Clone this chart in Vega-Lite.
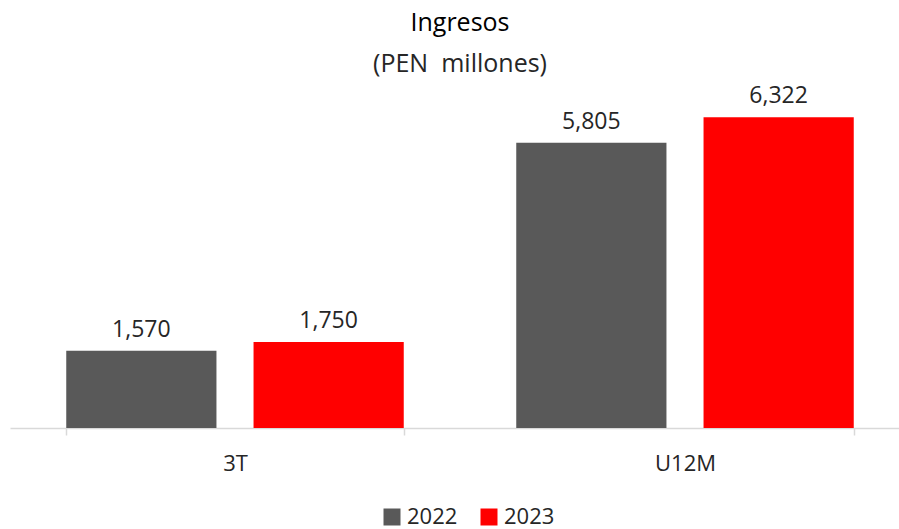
{
  "$schema": "https://vega.github.io/schema/vega-lite/v6.json",
  "width": 900,
  "height": 344,
  "autosize": "none",
  "padding": {"left": 10, "top": 84, "right": 0, "bottom": 101},
  "background": "white",
  "config": {"view": {"stroke": null}, "font": "Open Sans"},
  "title": {
    "text": "Ingresos",
    "subtitle": "(PEN\u00a0\u00a0millones)",
    "anchor": "middle",
    "fontSize": 25,
    "fontWeight": "normal",
    "font": "Open Sans",
    "color": "#000000",
    "subtitleFontSize": 25,
    "subtitleFont": "Open Sans",
    "subtitleColor": "#262626",
    "subtitlePadding": 16,
    "offset": 7
  },
  "data": {
    "values": [
      {"periodo": "3T", "anio": "2022", "valor": 1570},
      {"periodo": "3T", "anio": "2023", "valor": 1750},
      {"periodo": "U12M", "anio": "2022", "valor": 5805},
      {"periodo": "U12M", "anio": "2023", "valor": 6322}
    ]
  },
  "encoding": {
    "x": {
      "field": "periodo",
      "type": "nominal",
      "scale": {"paddingInner": 0.25, "paddingOuter": 0.125},
      "axis": {
        "title": null,
        "labelAngle": 0,
        "labelFontSize": 22,
        "labelColor": "#262626",
        "labelFont": "Open Sans",
        "labelPadding": 18,
        "domainColor": "#d9d9d9",
        "domainWidth": 1.5,
        "tickColor": "#d9d9d9",
        "tickWidth": 1.5,
        "tickSize": 7,
        "tickBand": "extent"
      }
    },
    "xOffset": {
      "field": "anio",
      "type": "nominal",
      "scale": {"paddingInner": 0.198, "paddingOuter": 0}
    },
    "y": {
      "field": "valor",
      "type": "quantitative",
      "scale": {"domain": [0, 7000]},
      "axis": null
    }
  },
  "layer": [
    {
      "mark": {"type": "bar"},
      "encoding": {
        "color": {
          "field": "anio",
          "type": "nominal",
          "scale": {"domain": ["2022", "2023"], "range": ["#595959", "#FF0000"]},
          "legend": {
            "title": null,
            "orient": "none",
            "legendX": 371,
            "legendY": 422,
            "direction": "horizontal",
            "symbolType": "square",
            "symbolSize": 289,
            "symbolStrokeWidth": 0,
            "labelFontSize": 22,
            "labelFont": "Open Sans",
            "labelColor": "#262626",
            "labelOffset": 4,
            "columnPadding": 20
          }
        }
      }
    },
    {
      "mark": {"type": "text", "baseline": "bottom", "dy": -9, "fontSize": 23, "font": "Open Sans", "color": "#262626"},
      "encoding": {
        "text": {"field": "valor", "type": "quantitative", "format": ",.0f"}
      }
    }
  ]
}
